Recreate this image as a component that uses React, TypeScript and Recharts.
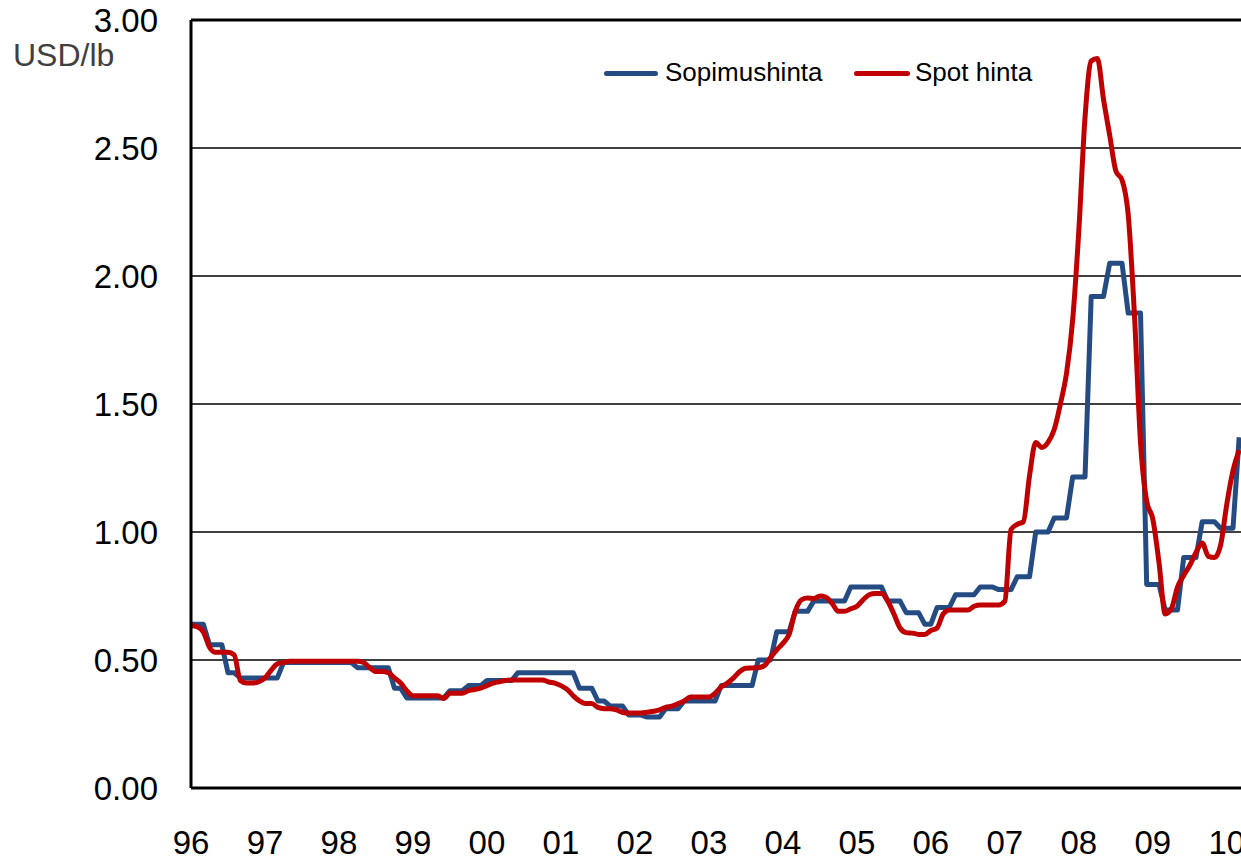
import { LineChart, Line, XAxis, YAxis, CartesianGrid, ReferenceLine } from "recharts"

// monthly, Jan 1996 - Mar 2010
const sopimushinta = [
  0.64, 0.64, 0.64, 0.56, 0.56, 0.56, 0.45, 0.45, 0.43, 0.43,
  0.43, 0.43, 0.43, 0.43, 0.43, 0.49, 0.49, 0.49, 0.49, 0.49,
  0.49, 0.49, 0.49, 0.49, 0.49, 0.49, 0.49, 0.47, 0.47, 0.47,
  0.47, 0.47, 0.47, 0.39, 0.39, 0.352, 0.352, 0.352, 0.352, 0.352,
  0.352, 0.352, 0.38, 0.38, 0.38, 0.4, 0.4, 0.4, 0.42, 0.42,
  0.42, 0.42, 0.42, 0.45, 0.45, 0.45, 0.45, 0.45, 0.45, 0.45,
  0.45, 0.45, 0.45, 0.39, 0.39, 0.39, 0.34, 0.34, 0.32, 0.32,
  0.32, 0.285, 0.285, 0.285, 0.277, 0.277, 0.277, 0.31, 0.31, 0.31,
  0.34, 0.34, 0.34, 0.34, 0.34, 0.34, 0.4, 0.4, 0.4, 0.4,
  0.4, 0.4, 0.5, 0.5, 0.5, 0.61, 0.61, 0.61, 0.69, 0.69,
  0.69, 0.73, 0.73, 0.73, 0.73, 0.73, 0.73, 0.785, 0.785, 0.785,
  0.785, 0.785, 0.785, 0.73, 0.73, 0.73, 0.685, 0.685, 0.685, 0.64,
  0.64, 0.705, 0.705, 0.705, 0.755, 0.755, 0.755, 0.755, 0.785, 0.785,
  0.785, 0.775, 0.775, 0.775, 0.825, 0.825, 0.825, 1.0, 1.0, 1.0,
  1.055, 1.055, 1.055, 1.215, 1.215, 1.215, 1.92, 1.92, 1.92, 2.05,
  2.05, 2.05, 1.855, 1.855, 1.855, 0.795, 0.795, 0.795, 0.695, 0.695,
  0.695, 0.9, 0.9, 0.9, 1.04, 1.04, 1.04, 1.015, 1.015, 1.015,
  1.37,
]

const spotHinta = [
  0.635, 0.63, 0.61, 0.55, 0.53, 0.53, 0.53, 0.52, 0.42, 0.41,
  0.41, 0.415, 0.43, 0.46, 0.485, 0.49, 0.495, 0.495, 0.495, 0.495,
  0.495, 0.495, 0.495, 0.495, 0.495, 0.495, 0.495, 0.495, 0.49, 0.47,
  0.455, 0.455, 0.45, 0.43, 0.41, 0.38, 0.36, 0.36, 0.36, 0.36,
  0.36, 0.35, 0.37, 0.37, 0.37, 0.38, 0.385, 0.39, 0.4, 0.41,
  0.415, 0.42, 0.422, 0.422, 0.422, 0.422, 0.422, 0.422, 0.414, 0.41,
  0.4, 0.385, 0.36, 0.34, 0.33, 0.33, 0.315, 0.31, 0.31, 0.305,
  0.295, 0.293, 0.293, 0.293, 0.296, 0.3, 0.305, 0.315, 0.32, 0.33,
  0.34, 0.355, 0.355, 0.355, 0.355, 0.37, 0.395, 0.41, 0.43, 0.455,
  0.468, 0.469, 0.47, 0.478, 0.51, 0.54, 0.565, 0.6, 0.69, 0.735,
  0.742, 0.74, 0.75, 0.745, 0.72, 0.69, 0.69, 0.7, 0.71, 0.735,
  0.755, 0.76, 0.76, 0.73, 0.68, 0.625, 0.607, 0.605, 0.6, 0.6,
  0.615, 0.625, 0.68, 0.695, 0.695, 0.695, 0.695, 0.71, 0.715, 0.715,
  0.715, 0.715, 0.73, 1.01, 1.03, 1.04, 1.22, 1.35, 1.33, 1.35,
  1.4, 1.5, 1.62, 1.83, 2.18, 2.62, 2.84, 2.85, 2.69, 2.55,
  2.41, 2.375, 2.24, 1.855, 1.35, 1.12, 1.05, 0.88, 0.68, 0.7,
  0.785, 0.83, 0.87, 0.92, 0.957, 0.905, 0.9, 0.95, 1.11, 1.24,
  1.32,
]

const yearLabels = ["96", "97", "98", "99", "00", "01", "02", "03", "04", "05", "06", "07", "08", "09", "10"]
const yTicks = [0, 0.5, 1, 1.5, 2, 2.5, 3]

const BLUE = "#254C82"
const RED = "#C00000"
const FONT = "'Liberation Sans', Arial, sans-serif"

const data = sopimushinta.map((v, i) => ({ m: i, sopimus: v, spot: spotHinta[i] }))
const xTicks = yearLabels.map((_, i) => i * 12)

export default function App() {
  return (
    <div
      style={{
        position: "absolute",
        left: 0,
        top: 0,
        width: 1241,
        height: 861,
        overflow: "hidden",
        background: "#fff",
        fontFamily: FONT,
      }}
    >
      <LineChart width={1270} height={861} data={data} margin={{ top: 20, right: 0, bottom: 0, left: 0 }}>
        <CartesianGrid vertical={false} stroke="#000" strokeWidth={1.5} />
        <XAxis
          type="number"
          dataKey="m"
          domain={[0, 175]}
          ticks={xTicks}
          tickFormatter={(v: number) => yearLabels[Math.round(v / 12)]}
          height={73}
          tickSize={0}
          tickMargin={43}
          axisLine={{ stroke: "#000", strokeWidth: 3 }}
          tick={{ fill: "#000", fontSize: 33, fontFamily: FONT }}
          interval={0}
        />
        <YAxis
          type="number"
          domain={[0, 3]}
          ticks={yTicks}
          tickFormatter={(v: number) => v.toFixed(2)}
          width={191}
          tickSize={0}
          tickMargin={33}
          axisLine={{ stroke: "#000", strokeWidth: 3 }}
          tick={{ fill: "#000", fontSize: 33, fontFamily: FONT }}
          interval={0}
        />
        <ReferenceLine y={3} stroke="#000" strokeWidth={3} />
        <Line
          type="linear"
          dataKey="sopimus"
          stroke={BLUE}
          strokeWidth={5}
          dot={false}
          strokeLinejoin="round"
          isAnimationActive={false}
        />
        <Line
          type="monotone"
          dataKey="spot"
          stroke={RED}
          strokeWidth={5}
          dot={false}
          strokeLinejoin="round"
          isAnimationActive={false}
        />
      </LineChart>

      {/* unit label */}
      <div style={{ position: "absolute", left: 13, top: 37, fontSize: 32, lineHeight: "36px", color: "#404040" }}>
        USD/lb
      </div>

      {/* legend */}
      <div style={{ position: "absolute", left: 604, top: 71, width: 54, height: 5, borderRadius: 3, background: BLUE }} />
      <div style={{ position: "absolute", left: 665, top: 57, fontSize: 26, lineHeight: "30px", color: "#000" }}>
        Sopimushinta
      </div>
      <div style={{ position: "absolute", left: 854, top: 71, width: 56, height: 5, borderRadius: 3, background: RED }} />
      <div style={{ position: "absolute", left: 915, top: 57, fontSize: 26, lineHeight: "30px", color: "#000" }}>
        Spot hinta
      </div>
    </div>
  )
}
